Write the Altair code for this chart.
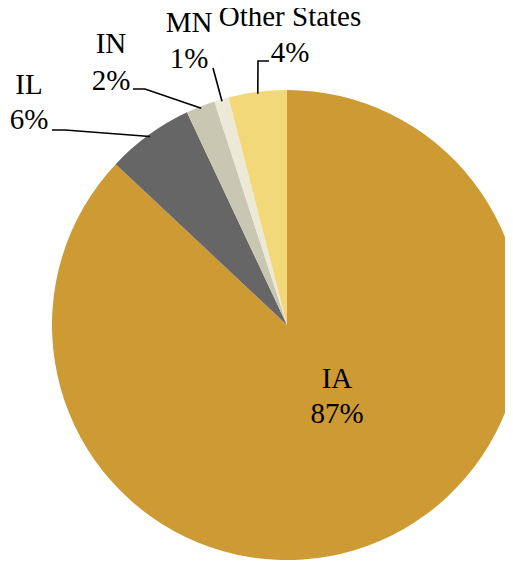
import math
import altair as alt
import pandas as pd

# ---- data ----
states = ["IA", "IL", "IN", "MN", "Other States"]
shares = [87, 6, 2, 1, 4]
colors = ["#CD9A33", "#666666", "#C9C6B2", "#ECE9D7", "#F3D87A"]

# ---- layout (chart pixel coordinates) ----
W, H = 497, 553
CX, CY, R = 279, 317, 235
FONT = "Liberation Serif"
FS = 29

label_x = [329, 21, 103, 181, 282]
name_y = [380, 86, 45, 24, 18]
pct_y = [415, 121, 82, 60, 54]
# leader start and elbow for the outside labels (None for IA)
leader_start = [None, (44, 122), (125, 81), (205, 60), (261, 53)]
leader_elbow = [None, (57, 122), (137, 81), None, (250, 53)]

df = pd.DataFrame({"state": states, "share": shares, "order": list(range(len(states)))})

# label table
lab_rows = []
for i, s in enumerate(states):
    lab_rows.append({"state": s, "x": label_x[i], "y": name_y[i], "text": s})
    lab_rows.append({"state": s, "x": label_x[i], "y": pct_y[i], "text": f"{shares[i]}%"})
lab = pd.DataFrame(lab_rows)

# leader lines: end at slice mid-angle on the rim
total = sum(shares)
cum = 0
line_rows = []
for i, s in enumerate(states):
    mid = (cum + shares[i] / 2) / total * 2 * math.pi
    cum += shares[i]
    if leader_start[i] is None:
        continue
    ex = CX + (R - 2) * math.sin(mid)
    ey = CY - (R - 2) * math.cos(mid)
    pts = [leader_start[i]]
    if leader_elbow[i] is not None:
        pts.append(leader_elbow[i])
    pts.append((ex, ey))
    for k, (px, py) in enumerate(pts):
        line_rows.append({"state": s, "seq": k, "x": px, "y": py})
lines = pd.DataFrame(line_rows)

xs = alt.Scale(domain=[0, W], range=[0, W], nice=False, zero=False)
ys = alt.Scale(domain=[0, H], range=[0, H], nice=False, zero=False)

pie = alt.Chart(df).mark_arc(radius=R).encode(
    theta=alt.Theta("share:Q", stack=True),
    order=alt.Order("order:Q"),
    color=alt.Color("state:N", scale=alt.Scale(domain=states, range=colors), legend=None),
    x=alt.value(CX),
    y=alt.value(CY),
)

leaders = alt.Chart(lines).mark_line(color="black", strokeWidth=1.6).encode(
    x=alt.X("x:Q", scale=xs, axis=None),
    y=alt.Y("y:Q", scale=ys, axis=None),
    detail="state:N",
    order="seq:Q",
)

texts = alt.Chart(lab).mark_text(
    font=FONT, fontSize=FS, align="center", baseline="alphabetic", color="black"
).encode(
    x=alt.X("x:Q", scale=xs, axis=None),
    y=alt.Y("y:Q", scale=ys, axis=None),
    text="text:N",
)

chart = alt.layer(pie, leaders, texts).properties(
    width=W, height=H, autosize=alt.AutoSizeParams(type="none"), padding=0
).configure_view(stroke=None)

chart.save("out.html", embed_options={"renderer": "svg", "actions": False})
